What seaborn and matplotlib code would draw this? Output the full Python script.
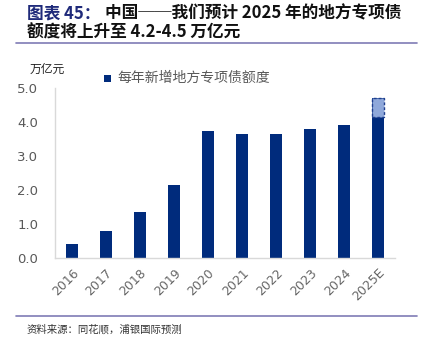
import matplotlib
matplotlib.use("Agg")
import matplotlib.pyplot as plt
import seaborn as sns
import pandas as pd
from matplotlib.patches import Rectangle
from matplotlib.lines import Line2D

years = ["2016", "2017", "2018", "2019", "2020", "2021", "2022", "2023", "2024", "2025E"]
values = [0.40, 0.78, 1.35, 2.15, 3.75, 3.65, 3.65, 3.80, 3.90, 4.72]
highlight_low = 4.15
yticks = [0.0, 1.0, 2.0, 3.0, 4.0, 5.0]

sns.set_theme(style="white")
plt.rcParams['font.family'] = ['Noto Sans CJK SC', 'DejaVu Sans']

df = pd.DataFrame({"year": years, "value": values})

fig = plt.figure(figsize=(4.29, 3.42), dpi=100)
ax = fig.add_axes([55/429, 1-258/342, 340/429, 170/342])
bar_color = "#002B7C"
sns.barplot(data=df, x="year", y="value", color=bar_color, width=0.33,
            saturation=1, ax=ax, edgecolor="none")

# highlighted top portion of last bar
last = ax.patches[-1]
x0 = last.get_x()
w = last.get_width()
ax.add_patch(Rectangle((x0, highlight_low), w, values[-1]-highlight_low,
                       facecolor="#8FA8DA", edgecolor="#1F3F8F", linestyle=(0, (2, 1.5)),
                       linewidth=1.0, zorder=3))

ax.set_xlim(-0.5, 9.5)
ax.set_ylim(0, 5.0)
ax.set_yticks(yticks)
ax.set_yticklabels([f"{v:.1f}" for v in yticks], color="#595959", fontsize=9.5,
                   family=['DejaVu Sans'])
ax.set_xlabel("")
ax.set_ylabel("")
ax.tick_params(axis="y", length=0, pad=12)
ax.tick_params(axis="x", length=0, pad=6)
for lbl in ax.get_xticklabels():
    lbl.set_rotation(45)
    lbl.set_ha("right")
    lbl.set_va("top")
    lbl.set_rotation_mode("anchor")
    lbl.set_color("#666666")
    lbl.set_fontsize(9)
    lbl.set_family(['DejaVu Sans'])
for s in ["top", "right"]:
    ax.spines[s].set_visible(False)
for s in ["left", "bottom"]:
    ax.spines[s].set_color("#D9D9D9")
    ax.spines[s].set_linewidth(1.0)
ax.grid(False)

# title
fig.text(27/429, 1-13/342, "图表 45：", color="#1F2A7A", fontsize=12, fontweight="bold",
         va="center", ha="left")
fig.text(105/429, 1-13/342, "中国\u2500\u2500我们预计 2025 年的地方专项债", color="#111111",
         fontsize=12, fontweight="bold", va="center", ha="left")
fig.text(27/429, 1-33/342, "额度将上升至 4.2-4.5 万亿元", color="#111111",
         fontsize=12, fontweight="bold", va="center", ha="left")
fig.add_artist(Line2D([16/429, 417/429], [1-43/342, 1-43/342], color="#7F7BB5", linewidth=1.2))

# unit label
fig.text(30/429, 1-69/342, "万亿元", color="#222222", fontsize=8.5, va="center", ha="left")

# legend
fig.add_artist(Rectangle((104/429, 1-82/342), 7/429, 7/342, facecolor=bar_color,
                         edgecolor="none", transform=fig.transFigure))
fig.text(117/429, 1-78/342, "每年新增地方专项债额度", color="#595959", fontsize=10,
         va="center", ha="left")

# footer
fig.add_artist(Line2D([16/429, 417/429], [1-316/342, 1-316/342], color="#7F7BB5", linewidth=1.2))
fig.text(27/429, 1-329/342, "资料来源：同花顺，浦银国际预测", color="#333333", fontsize=7.5,
         va="center", ha="left")

fig.savefig("out.png", dpi=100)
